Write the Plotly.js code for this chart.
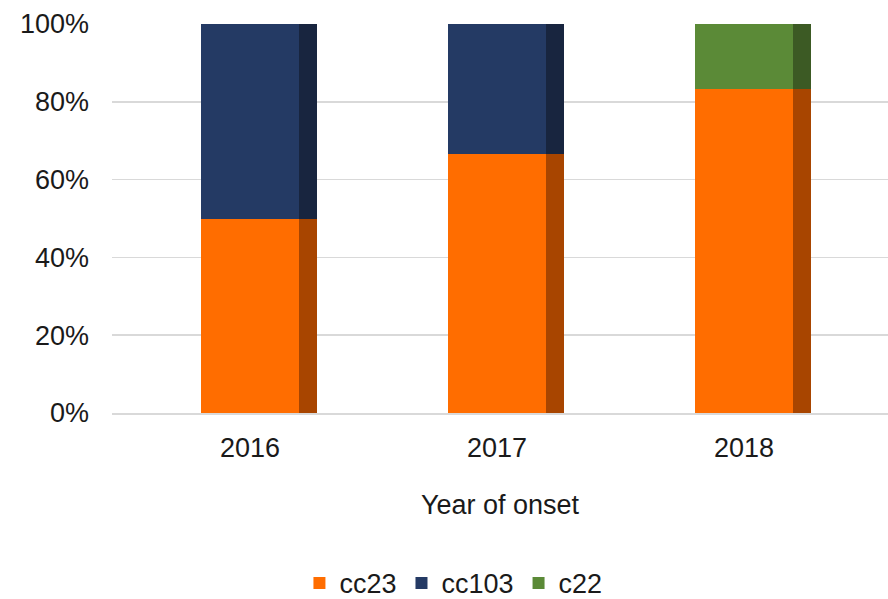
<!DOCTYPE html>
<html>
<head>
<meta charset="utf-8">
<script src="https://cdn.plot.ly/plotly-3.0.1.min.js"></script>
<style>html,body{margin:0;padding:0;background:#fff;}#chart{width:888px;height:599px;}</style>
</head>
<body>
<div id="chart"></div>
<script>
var years = ['2016', '2017', '2018'];
var seriesNames = ['cc23', 'cc103', 'c22'];
var cc23 = [0.5, 0.667, 0.833];
var cc103 = [0.5, 0.333, 0];
var c22 = [0, 0, 0.167];
var faceColors = ['#FF6D00', '#243A64', '#5B8A37'];
var sideColors = ['#A84500', '#18253F', '#3C5A24'];
var tickVals = [0, 0.2, 0.4, 0.6, 0.8, 1.0];
var tickText = ['0%', '20%', '40%', '60%', '80%', '100%'];

var values = [cc23, cc103, c22];
var traces = [];
values.forEach(function (v, i) {
  traces.push({
    type: 'bar', x: years, y: v, name: seriesNames[i],
    marker: {color: faceColors[i], line: {width: 0}},
    width: 0.4, offset: -0.2, xaxis: 'x', yaxis: 'y',
    hoverinfo: 'skip'
  });
});
values.forEach(function (v, i) {
  traces.push({
    type: 'bar', x: years, y: v, name: seriesNames[i] + ' side', showlegend: false,
    marker: {color: sideColors[i], line: {width: 0}},
    width: 0.07, offset: 0.2, xaxis: 'x2', yaxis: 'y',
    hoverinfo: 'skip'
  });
});

var font = {family: 'Liberation Sans, Arial, sans-serif', size: 27, color: '#1a1a1a'};
var legendFont = {family: 'Liberation Sans, Arial, sans-serif', size: 27, color: '#1a1a1a'};
var layout = {
  width: 888, height: 599,
  margin: {l: 112, r: 0, t: 24, b: 186, autoexpand: false},
  barmode: 'stack',
  paper_bgcolor: '#fff', plot_bgcolor: '#fff',
  font: font,
  showlegend: true,
  legend: {orientation: 'h', x: 0.44, xanchor: 'center', y: -0.438, yanchor: 'middle',
           font: legendFont, itemwidth: 30, traceorder: 'normal'},
  xaxis: {type: 'category', range: [-0.559, 2.583], showgrid: false, automargin: false,
          showline: true, linecolor: '#D9D9D9', linewidth: 1.5, ticks: '',
          tickfont: font, ticklabelstandoff: 10,
          title: {text: 'Year of onset', font: font, standoff: 33}},
  xaxis2: {type: 'category', range: [-0.559, 2.583], overlaying: 'x', visible: false},
  yaxis: {range: [0, 1], tickvals: tickVals, ticktext: tickText, showgrid: true, automargin: false,
          gridcolor: '#D9D9D9', gridwidth: 1.5, zeroline: false, showline: false,
          ticks: '', tickfont: font, ticklabelstandoff: 22}
};
Plotly.newPlot('chart', traces, layout, {displayModeBar: false, staticPlot: true});
</script>
</body>
</html>
